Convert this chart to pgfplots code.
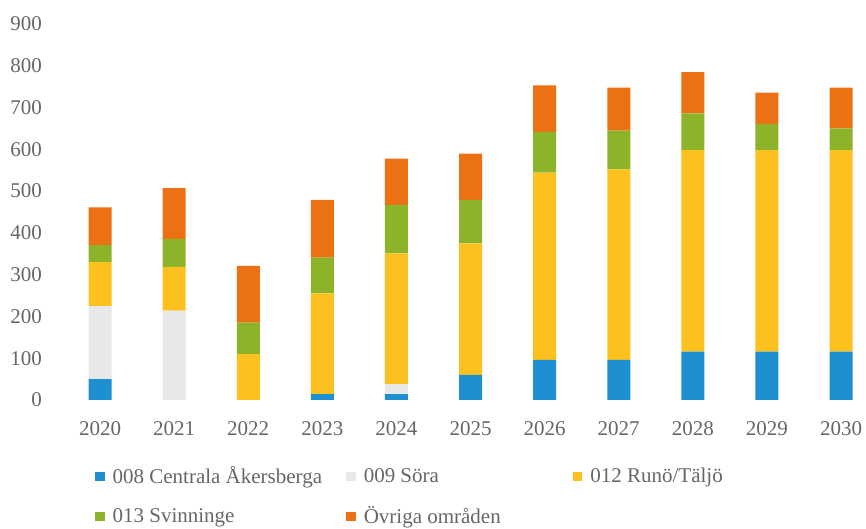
\documentclass[border=0pt]{standalone}
\usepackage{fontspec}
\setmainfont{Liberation Serif}
\usepackage{pgfplots}
\pgfplotsset{compat=1.18}
\definecolor{cBlue}{HTML}{1E90D2}
\definecolor{cGray}{HTML}{E8E8E8}
\definecolor{cYellow}{HTML}{FCC11E}
\definecolor{cGreen}{HTML}{8DB32B}
\definecolor{cOrange}{HTML}{EC7014}
\definecolor{cText}{HTML}{666666}
\begin{document}
\begin{tikzpicture}
\path[use as bounding box] (0,0) rectangle (433pt,264.5pt);
\begin{axis}[
  at={(31.5pt,64.5pt)}, anchor=south west,
  scale only axis, width=400.15pt, height=188pt,
  ybar stacked, bar width=11.5pt,
  xmin=2019.5, xmax=2030.3, ymin=0, ymax=900,
  xtick={2020,...,2030}, ytick={0,100,...,900},
  /pgf/number format/assume math mode=true,
  xticklabel={\pgfmathprintnumber[1000 sep=]{\tick}},
  yticklabel={\pgfmathprintnumber{\tick}},
  axis line style={draw=none}, major tick length=0pt,
  font=\fontsize{10.5}{12}\selectfont, ticklabel style={text=cText},
  yticklabel style={xshift=-7pt},
  xticklabel style={yshift=-7pt},
  legend columns=3,
  legend cell align=left,
  legend style={draw=none, fill=none, inner sep=0pt, text=cText,
    at={(axis description cs:0.0395,-0.165)}, anchor=north west,
    /tikz/every odd column/.append style={column sep=2pt},
    /tikz/column 2/.style={column sep=10pt},
    /tikz/column 4/.style={column sep=34pt},
    row sep=6pt,
    font=\fontsize{10.5}{12}\selectfont},
  legend image code/.code={\fill[#1] (0pt,-2.4pt) rectangle (4.8pt,2.4pt);},
]
\addplot[fill=cBlue, draw=none] coordinates {(2020,50) (2021,0) (2022,0) (2023,14) (2024,14) (2025,60) (2026,96) (2027,96) (2028,116) (2029,116) (2030,116)};
\addplot[fill=cGray, draw=none] coordinates {(2020,175) (2021,214) (2022,0) (2023,0) (2024,24) (2025,0) (2026,0) (2027,0) (2028,0) (2029,0) (2030,0)};
\addplot[fill=cYellow, draw=none] coordinates {(2020,105) (2021,104) (2022,110) (2023,241) (2024,313) (2025,315) (2026,448) (2027,456) (2028,482) (2029,482) (2030,482)};
\addplot[fill=cGreen, draw=none] coordinates {(2020,41) (2021,67) (2022,75) (2023,86) (2024,116) (2025,104) (2026,98) (2027,93) (2028,88) (2029,63) (2030,52)};
\addplot[fill=cOrange, draw=none] coordinates {(2020,90) (2021,122) (2022,136) (2023,138) (2024,111) (2025,111) (2026,111) (2027,103) (2028,99) (2029,75) (2030,98)};
\legend{008 Centrala Åkersberga, 009 Söra, 012 Runö/Täljö, 013 Svinninge, Övriga områden}
\end{axis}
\end{tikzpicture}
\end{document}
